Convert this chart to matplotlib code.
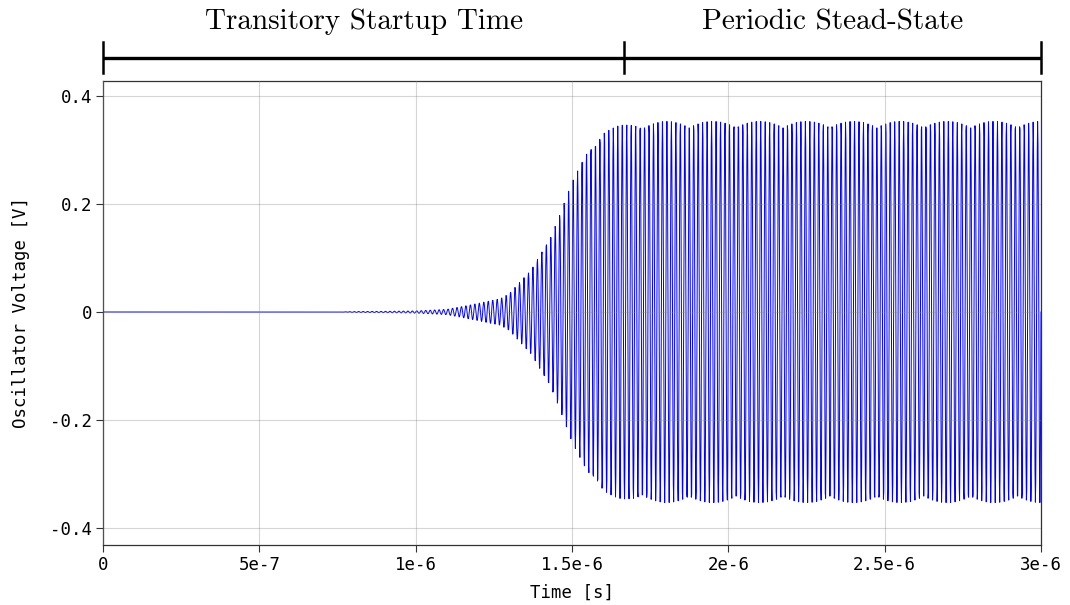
import numpy as np
import matplotlib
matplotlib.use("Agg")
import matplotlib.pyplot as plt
from matplotlib.transforms import blended_transform_factory

# ---- data ----
env_time = [0.0, 0.75e-6, 0.8e-6, 0.9e-6, 1.0e-6, 1.1e-6, 1.2e-6, 1.27e-6, 1.3e-6,
            1.37e-6, 1.43e-6, 1.46e-6, 1.5e-6, 1.55e-6, 1.6e-6, 1.65e-6, 1.7e-6,
            1.8e-6, 3.0e-6]
env_amp = [0.0, 0.0, 0.0008, 0.0012, 0.002, 0.005, 0.016, 0.025, 0.035,
           0.078, 0.14, 0.18, 0.24, 0.30, 0.335, 0.345, 0.35, 0.353, 0.353]
osc_freq = 70e6          # oscillation frequency [Hz]
sample_step = 1.2e-9     # simulator output step [s]
t_end = 3e-6
phase_boundary = 1.667e-6
phase_labels = ["Transitory Startup Time", "Periodic Stead-State"]
xticks = [0, 5e-7, 1e-6, 1.5e-6, 2e-6, 2.5e-6, 3e-6]
xticklabels = ["0", "5e-7", "1e-6", "1.5e-6", "2e-6", "2.5e-6", "3e-6"]
yticks = [-0.4, -0.2, 0, 0.2, 0.4]
yticklabels = ["-0.4", "-0.2", "0", "0.2", "0.4"]

t = np.arange(0, t_end + sample_step / 2, sample_step)
v = np.interp(t, env_time, env_amp) * np.sin(2 * np.pi * osc_freq * t)

mono = "DejaVu Sans Mono"

fig = plt.figure(figsize=(10.7, 6.05), dpi=100)
ax = fig.add_axes([103 / 1070, 1 - 545 / 605, (1041 - 103) / 1070, (545 - 81) / 605])

ax.plot(t, v, color="#0000ff", lw=0.7)
ax.set_xlim(0, t_end)
ax.set_ylim(-0.4315, 0.4278)
ax.set_xticks(xticks)
ax.set_xticklabels(xticklabels, fontfamily=mono, fontsize=12.5)
ax.set_yticks(yticks)
ax.set_yticklabels(yticklabels, fontfamily=mono, fontsize=12.5)
ax.tick_params(direction="out", length=5, width=0.8, pad=3, color="#333333")
ax.grid(True, color="#888888", alpha=0.35, lw=0.8)
ax.set_axisbelow(False)
for s in ax.spines.values():
    s.set_color("#333333")
    s.set_linewidth(0.9)
ax.set_xlabel("Time [s]", fontfamily=mono, fontsize=12.5, labelpad=7)
ax.set_ylabel("Oscillator Voltage [V]", fontfamily=mono, fontsize=12.5, labelpad=14)

# ---- phase bracket above the axes ----
tr = blended_transform_factory(ax.transData, fig.transFigure)
y_line = 1 - 58 / 605
y_top = 1 - 42 / 605
y_bot = 1 - 73 / 605
ax.plot([0, t_end], [y_line, y_line], color="black", lw=2.4, transform=tr, clip_on=False,
        solid_capstyle="butt")
for xb in [0, phase_boundary, t_end]:
    ax.plot([xb, xb], [y_bot, y_top], color="black", lw=1.8, transform=tr, clip_on=False)
y_txt = 1 - 22 / 605
for (x0, x1), lab in zip([(0, phase_boundary), (phase_boundary, t_end)], phase_labels):
    ax.text((x0 + x1) / 2, y_txt, lab, family="cmr10",
            transform=tr, ha="center", va="center", fontsize=21)

fig.savefig("out.png", dpi=100)
